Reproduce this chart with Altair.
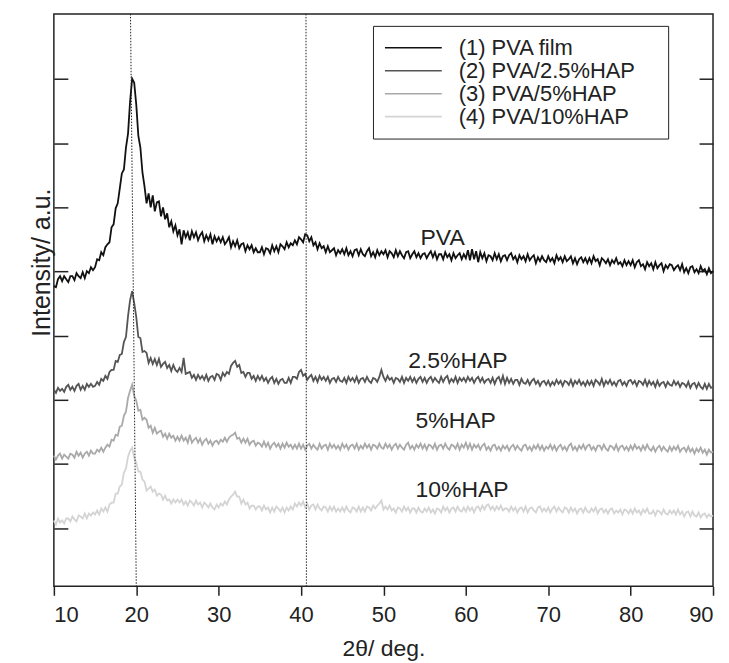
import altair as alt
import pandas as pd

FONT = "Liberation Sans"
INK = "#222222"

# 2-theta sampling grid (deg), 0.25 deg steps from 10 to 90
two_theta = [round(10 + 0.25 * i, 2) for i in range(321)]

series_names = ["(1) PVA film", "(2) PVA/2.5%HAP", "(3) PVA/5%HAP", "(4) PVA/10%HAP"]
series_colors = ["#111111", "#555555", "#a9a9a9", "#d4d4d4"]

# Intensities (a.u.), one row per 5 degrees
pva = [
    301,300,308,311,306,311,308,305,311,311,307,314,311,309,315,309,316,314,320,317,
    320,328,327,335,332,340,343,345,360,363,379,384,399,414,418,440,454,486,509,505,
    483,452,440,415,401,384,394,380,392,376,385,386,371,380,368,374,360,366,356,362,
    352,358,343,357,350,355,347,356,350,355,347,352,355,346,352,347,353,343,351,346,
    350,345,350,343,346,350,340,346,341,347,339,343,344,336,342,338,342,335,339,335,
    335,340,333,339,338,334,342,336,341,335,343,341,338,345,340,344,342,347,343,350,
    348,345,353,352,346,350,342,345,338,344,339,341,335,341,335,337,339,332,337,334,
    338,333,339,332,336,331,337,338,332,338,333,331,336,339,331,335,330,337,332,336,
    333,337,330,336,334,330,337,331,336,332,329,335,336,329,333,336,330,334,329,333,
    334,329,333,336,330,335,328,333,333,328,335,330,333,327,334,329,332,334,328,333,
    329,337,327,338,328,336,325,335,329,334,326,332,331,327,334,328,333,326,331,332,
    327,332,334,328,331,325,332,328,331,326,333,327,330,332,324,330,326,331,327,325,
    331,326,329,324,332,327,330,325,331,326,328,331,324,329,323,328,330,325,329,324,
    329,324,331,326,328,322,329,327,324,328,322,327,324,329,323,325,321,327,322,326,
    322,327,320,325,327,321,323,318,325,321,324,318,325,319,322,324,316,322,319,323,
    322,317,320,322,317,323,315,319,314,320,321,315,318,314,321,316,318,313,319,314,
    316,
]
hap25 = [
    197,194,199,196,198,195,200,202,197,200,196,201,203,197,201,197,203,200,203,200,
    201,205,202,208,206,211,208,215,217,217,226,225,232,233,245,250,271,287,296,284,
    270,250,249,235,236,234,224,229,223,228,222,228,220,223,225,219,222,216,222,217,
    215,219,215,229,213,214,215,209,212,207,212,208,211,207,212,206,210,211,207,213,
    212,207,214,211,215,213,221,224,226,220,222,214,215,210,214,214,208,211,206,211,
    207,211,206,209,204,208,210,204,208,203,207,208,204,204,209,204,210,210,208,215,
    217,211,213,207,210,212,206,210,205,211,207,210,206,210,204,208,209,205,210,206,
    205,209,204,210,206,209,205,210,204,208,209,205,210,206,204,209,208,205,210,217,
    210,206,211,207,209,204,209,208,205,210,204,209,206,210,205,209,204,208,210,205,
    209,204,208,210,205,209,206,204,210,205,209,211,204,208,205,210,204,209,206,209,
    205,210,206,209,204,208,210,205,209,204,207,208,204,209,203,208,210,204,211,203,
    209,204,208,203,207,207,202,208,204,203,207,202,206,208,203,206,201,205,206,202,
    206,201,205,202,207,203,206,201,206,205,202,207,201,206,203,207,202,205,201,206,
    202,206,201,207,205,202,208,201,206,203,207,202,205,201,206,207,202,205,201,206,
    207,203,206,201,206,205,202,207,201,206,202,205,200,206,201,204,205,200,205,202,
    201,206,202,205,200,204,203,200,205,199,203,204,199,204,200,198,203,198,203,199,
    200,
]
hap5 = [
    131,127,131,133,128,132,130,128,133,132,129,135,131,134,129,133,135,131,136,133,
    133,137,135,139,135,139,142,140,147,146,152,151,160,161,171,175,189,196,202,191,
    186,176,177,167,169,167,159,161,154,159,153,155,156,150,153,148,153,149,151,146,
    150,146,151,146,149,144,152,144,147,149,144,148,142,146,148,143,146,141,145,146,
    143,147,145,149,145,149,151,152,154,148,149,144,148,144,148,142,145,146,141,144,
    143,140,145,140,144,138,142,144,140,143,138,143,139,144,140,142,138,142,138,143,
    138,142,137,141,143,138,142,139,137,143,138,141,142,137,143,139,142,138,141,137,
    143,139,142,137,141,142,138,143,137,141,138,143,139,142,137,142,141,138,143,139,
    138,143,139,142,137,141,143,138,142,139,137,142,144,138,141,137,142,139,143,138,
    142,137,142,141,138,143,137,141,142,138,143,139,137,142,141,138,143,137,142,139,
    144,138,143,137,142,139,142,137,141,143,137,140,136,141,142,137,140,136,141,138,
    141,136,140,142,137,141,138,136,141,142,137,140,136,141,138,142,137,141,136,140,
    138,142,137,141,136,140,142,137,140,136,141,143,137,140,136,141,138,142,137,141,
    142,137,140,136,141,141,137,142,138,136,141,140,137,142,136,140,141,137,140,136,
    141,137,142,138,140,136,141,137,142,138,136,140,135,139,141,136,140,137,135,140,
    136,140,137,141,135,138,139,135,140,135,138,133,138,135,139,134,137,132,137,134,
    135,
]
hap10 = [
    66,62,68,64,66,63,68,68,65,70,67,65,71,70,68,73,68,73,71,74,
    72,76,72,78,75,79,75,82,84,84,93,93,100,102,114,118,130,136,139,129,
    124,115,115,107,105,96,98,100,95,97,91,93,92,87,91,86,87,83,87,84,
    87,84,87,82,85,81,86,84,81,86,82,84,79,84,82,79,83,79,77,82,
    79,83,81,85,82,87,90,92,95,90,90,83,87,82,84,78,81,81,77,80,
    80,76,81,77,79,74,79,75,80,78,75,79,74,79,76,80,77,83,80,84,
    81,85,79,83,77,81,82,77,82,78,76,80,79,75,80,76,80,75,78,75,
    79,75,80,76,74,79,78,75,80,75,79,75,80,79,76,81,78,81,83,86,
    77,80,77,81,76,78,74,79,78,75,80,76,79,74,78,78,74,79,75,74,
    78,75,79,74,77,73,78,77,74,80,76,79,74,78,79,75,80,76,75,79,
    75,80,76,79,74,79,80,76,81,77,81,82,77,80,76,80,77,81,76,78,
    78,75,80,76,79,74,78,79,75,80,74,78,79,76,74,79,80,75,78,75,
    79,74,78,80,75,79,76,74,79,78,74,79,75,78,73,77,78,74,79,75,
    74,78,75,79,73,77,78,74,77,73,77,78,73,76,74,77,72,77,76,73,
    77,73,78,74,76,72,77,74,78,73,73,76,71,76,75,72,77,73,72,76,
    73,76,72,77,72,75,70,74,75,70,75,71,70,74,69,72,73,69,72,70,
    71,
]

# axis tick values
x_ticks = [10, 20, 30, 40, 50, 60, 70, 80, 90]
y_ticks = [58, 123, 187, 251, 316, 380, 444, 509]
y_range = [0, 574]

# dotted guide lines (2-theta at top and at bottom of frame)
guide_top = [19.3, 40.6]
guide_bottom = [20.0, 40.65]

# curve annotations
ann_labels = ["PVA", "2.5%HAP", "5%HAP", "10%HAP"]
ann_x = [54.5, 53.0, 53.9, 53.9]
ann_y = [342, 219, 159, 90]

rows = []
for name, vals in zip(series_names, [pva, hap25, hap5, hap10]):
    for t, v in zip(two_theta, vals):
        rows.append({"series": name, "two_theta": t, "intensity": v})
df = pd.DataFrame(rows)

guide_df = pd.DataFrame({
    "x_top": guide_top, "x_bottom": guide_bottom,
    "y_top": [y_range[1]] * 2, "y_bottom": [y_range[0]] * 2,
})
ann_df = pd.DataFrame({"label": ann_labels, "x": ann_x, "y": ann_y})

x_scale = alt.Scale(domain=[10, 90], nice=False, zero=False)
y_scale = alt.Scale(domain=y_range, nice=False, zero=False)

x_axis = alt.Axis(
    values=x_ticks, tickSize=9, tickWidth=1.5, tickColor=INK, domain=False, grid=False,
    labelFont=FONT, labelFontSize=22, labelColor=INK, labelBaseline="alphabetic",
    labelPadding=26, title="2θ/ deg.", titleFont=FONT, titleFontSize=23,
    titleFontWeight="normal", titleColor=INK, titleBaseline="alphabetic", titleY=69,
)

y_left = alt.Axis(
    orient="left", values=y_ticks, offset=-14, tickSize=14, tickWidth=1.5, tickColor=INK,
    domain=False, labels=False, grid=False, title="Intensity/ a.u.", titleFont=FONT,
    titleFontSize=25, titleFontWeight="normal", titleColor=INK, titleX=-18, titleY=249,
    titleBaseline="alphabetic",
)
y_right = alt.Axis(
    orient="right", values=y_ticks, offset=-14, tickSize=14, tickWidth=1.5, tickColor=INK,
    domain=False, labels=False, grid=False, title=None,
)

legend = alt.Legend(
    orient="none", legendX=320, legendY=12, title=" ", titleOrient="right",
    titlePadding=22, titleFontSize=22, symbolType="M-1,0H4.7", symbolSize=400,
    symbolStrokeWidth=1.6, labelFont=FONT, labelFontSize=22, labelColor=INK,
    labelOffset=53, labelLimit=400, rowPadding=1, padding=11, strokeColor=INK,
    fillColor="white",
)

lines = alt.Chart(df).mark_line(strokeWidth=1.8).encode(
    x=alt.X("two_theta:Q", scale=x_scale, axis=x_axis),
    y=alt.Y("intensity:Q", scale=y_scale, axis=y_left),
    color=alt.Color("series:N", scale=alt.Scale(domain=series_names, range=series_colors),
                    legend=legend),
)

guides = alt.Chart(guide_df).mark_rule(strokeDash=[1.5, 1.5], strokeWidth=1, color=INK).encode(
    x=alt.X("x_top:Q", scale=x_scale, axis=x_axis),
    x2="x_bottom:Q",
    y=alt.Y("y_top:Q", scale=y_scale, axis=None),
    y2="y_bottom:Q",
)

notes = alt.Chart(ann_df).mark_text(align="left", baseline="alphabetic", font=FONT,
                                    fontSize=23, color=INK).encode(
    x=alt.X("x:Q", scale=x_scale, axis=x_axis),
    y=alt.Y("y:Q", scale=y_scale, axis=y_right),
    text="label:N",
)

chart = alt.layer(lines, guides, notes).resolve_axis(y="independent").properties(
    width=661, height=574,
    autosize=alt.AutoSizeParams(type="none"),
    padding={"left": 46, "top": 5, "right": 8, "bottom": 76},
    background="white",
).configure_view(stroke=INK, strokeWidth=1.5)

chart.save("out.html", embed_options={"renderer": "svg", "actions": False})
